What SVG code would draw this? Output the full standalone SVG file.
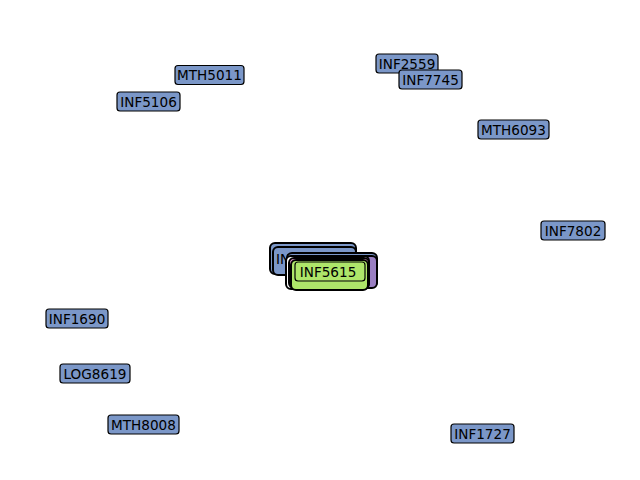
<svg xmlns="http://www.w3.org/2000/svg" width="640" height="480" viewBox="0 0 640 480">
<style>
.b{fill:#7b97c8;stroke:#000;stroke-width:1.2}
.t{font-family:"DejaVu Sans",sans-serif;font-size:13.6px;text-anchor:middle;dominant-baseline:central;fill:#000}
.c{stroke:#000;stroke-width:2}
</style>
<rect width="640" height="480" fill="#fff"/>
<g id="connectors"></g>
<g id="MTH5011"><rect class="b" x="175" y="65.5" width="69" height="19" rx="3"/><text class="t" x="209.5" y="75">MTH5011</text></g>
<g id="INF5106"><rect class="b" x="117" y="92" width="63" height="19" rx="3"/><text class="t" x="148.5" y="101.5">INF5106</text></g>
<g id="INF2559"><rect class="b" x="376" y="54" width="62" height="19" rx="3"/><text class="t" x="407" y="63.5">INF2559</text></g>
<g id="INF7745"><rect class="b" x="399" y="70" width="63" height="19" rx="3"/><text class="t" x="430.5" y="79.5">INF7745</text></g>
<g id="MTH6093"><rect class="b" x="478" y="120" width="71" height="19" rx="3"/><text class="t" x="513.5" y="129.5">MTH6093</text></g>
<g id="INF7802"><rect class="b" x="541" y="221" width="64" height="19" rx="3"/><text class="t" x="573" y="230.5">INF7802</text></g>
<g id="INF1690"><rect class="b" x="46" y="309" width="62" height="19" rx="3"/><text class="t" x="77" y="318.5">INF1690</text></g>
<g id="LOG8619"><rect class="b" x="60" y="364" width="70" height="19" rx="3"/><text class="t" x="95" y="373.5">LOG8619</text></g>
<g id="MTH8008"><rect class="b" x="108" y="415" width="71" height="19" rx="3"/><text class="t" x="143.5" y="424.5">MTH8008</text></g>
<g id="INF1727"><rect class="b" x="451" y="424" width="63" height="19" rx="3"/><text class="t" x="482.5" y="433.5">INF1727</text></g>
<g id="cluster-back">
<rect class="c" x="270" y="243" width="86" height="31" rx="5" fill="#7b97c8"/>
<rect class="c" x="273" y="247" width="83" height="28" rx="5" fill="#7b97c8"/>
<text class="t" x="283" y="258.5">IN</text>
</g>
<g id="cluster-front">
<rect class="c" x="287" y="253" width="90" height="34" rx="5" fill="#7b97c8"/>
<rect class="c" x="291" y="256" width="86" height="32" rx="5" fill="#9a7fc2"/>
<rect class="c" x="286" y="256" width="83" height="33" rx="5" fill="#fff"/>
<rect class="c" x="289" y="258" width="80" height="30" rx="5" fill="#e79bd0"/>
<rect class="c" x="291" y="260" width="77" height="30" rx="5" fill="#aee56a"/>
</g>
<g id="INF5615"><rect x="295" y="262" width="70" height="19" rx="3" fill="#aee56a" stroke="#000" stroke-width="1.2"/><text class="t" x="328" y="271.5">INF5615</text></g>
</svg>
